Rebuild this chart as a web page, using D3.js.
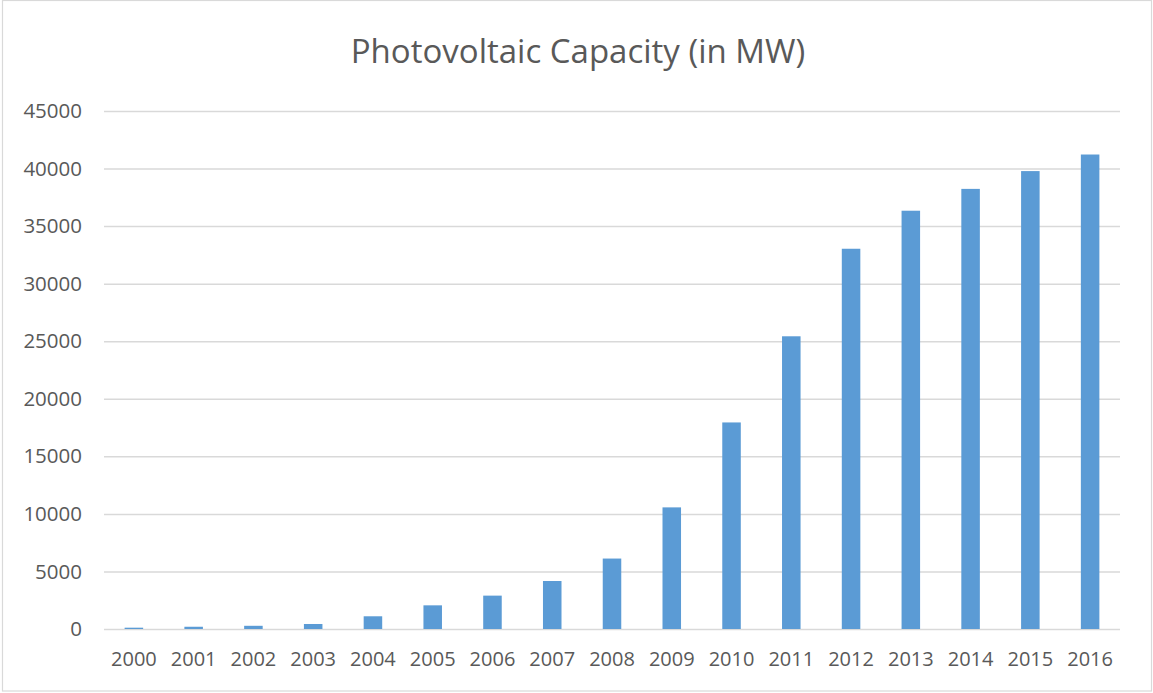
<!DOCTYPE html>
<html>
<head>
<meta charset="utf-8">
<script src="https://cdn.jsdelivr.net/npm/d3@7"></script>
<style>
  body { margin: 0; background: #fff; }
  svg text { font-family: "Open Sans", "Liberation Sans", sans-serif; fill: #595959; }
</style>
</head>
<body>
<div class="svg-container"></div>
<script>
// chart data
const years = ['2000', '2001', '2002', '2003', '2004', '2005', '2006', '2007', '2008',
  '2009', '2010', '2011', '2012', '2013', '2014', '2015', '2016'];
const capacity = [114, 195, 278, 435, 1105, 2056, 2899, 4170, 6120,
  10566, 17944, 25429, 33033, 36337, 38234, 39780, 41220];
const yTicks = [0, 5000, 10000, 15000, 20000, 25000, 30000, 35000, 40000, 45000];
const title = 'Photovoltaic Capacity (in MW)';

const renderBarChart = () => {
  // set up dimensions
  const width = 1153;
  const height = 693;
  const margin = { top: 111, right: 33, bottom: 64, left: 104 };

  const svg = d3.select('.svg-container')
    .append('svg')
    .attr('width', width)
    .attr('height', height);

  // chart border
  svg.append('rect')
    .attr('x', 2.5)
    .attr('y', 0.5)
    .attr('width', width - 4)
    .attr('height', height - 2.5)
    .attr('fill', 'none')
    .attr('stroke', '#d9d9d9')
    .attr('stroke-width', 1.2);

  const x = d3.scaleBand()
    .domain(years)
    .range([margin.left, width - margin.right])
    .paddingInner(0.69)
    .paddingOuter(0.345);

  const y = d3.scaleLinear()
    .domain([0, 45000])
    .range([height - margin.bottom, margin.top]);

  // gridlines
  svg.append('g')
    .attr('class', 'grid')
    .attr('transform', `translate(${margin.left},0)`)
    .call(d3.axisLeft(y).tickValues(yTicks).tickSize(-(width - margin.left - margin.right)).tickFormat(''))
    .call(g => g.select('.domain').remove())
    .call(g => g.selectAll('line').attr('stroke', '#d9d9d9').attr('stroke-width', 1.5));

  // y tick labels
  svg.append('g')
    .attr('transform', `translate(${margin.left - 22},0)`)
    .call(d3.axisLeft(y).tickValues(yTicks).tickSize(0).tickPadding(0).tickFormat(d3.format('d')))
    .call(g => g.select('.domain').remove())
    .call(g => g.selectAll('text').attr('font-size', 20.5).attr('fill', '#595959'));

  // bars
  svg.append('g')
    .selectAll('rect')
    .data(capacity)
    .enter()
    .append('rect')
    .attr('x', (d, i) => x(years[i]))
    .attr('y', d => y(d))
    .attr('width', x.bandwidth())
    .attr('height', d => y(0) - y(d))
    .attr('fill', '#5b9bd5');

  // x axis labels
  svg.append('g')
    .attr('transform', `translate(0,${height - margin.bottom})`)
    .call(d3.axisBottom(x).tickSize(0).tickPadding(23))
    .call(g => g.select('.domain').remove())
    .call(g => g.selectAll('text').attr('font-size', 20).attr('fill', '#595959'));

  // title
  svg.append('text')
    .attr('x', 578)
    .attr('y', 63)
    .attr('text-anchor', 'middle')
    .attr('font-size', 33)
    .text(title);
};

renderBarChart();
</script>
</body>
</html>
